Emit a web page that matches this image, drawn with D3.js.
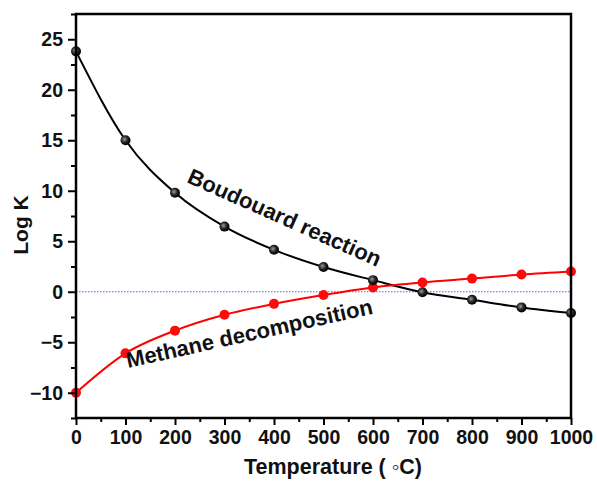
<!DOCTYPE html>
<html>
<head>
<meta charset="utf-8">
<script src="https://cdn.jsdelivr.net/npm/d3@7/dist/d3.min.js"></script>
<style>
  html, body { margin: 0; padding: 0; background: #fff; }
  svg { display: block; }
  text { font-family: "Liberation Sans", Arial, sans-serif; font-weight: bold; fill: #111; }
</style>
</head>
<body>
<svg id="chart" width="597" height="484"></svg>
<script>
// Temperature grid (°C)
const temperatures = [0, 100, 200, 300, 400, 500, 600, 700, 800, 900, 1000];
// log K of the Boudouard reaction (2CO -> C + CO2)
const boudouardLogK = [23.8, 15.0, 9.8, 6.45, 4.15, 2.45, 1.15, -0.05, -0.8, -1.55, -2.1];
// log K of methane decomposition (CH4 -> C + 2H2)
const methaneLogK = [-10.0, -6.1, -3.85, -2.28, -1.2, -0.33, 0.42, 0.92, 1.3, 1.7, 2.0];
const xTicks = [0, 100, 200, 300, 400, 500, 600, 700, 800, 900, 1000];
const yTicks = [-10, -5, 0, 5, 10, 15, 20, 25];

const svg = d3.select("#chart");
const m = { left: 76, right: 26, top: 14, bottom: 66 };
const W = 597, H = 484;

const x = d3.scaleLinear().domain([0, 1000]).range([m.left, W - m.right]);
const y = d3.scaleLinear().domain([-12.5, 27.5]).range([H - m.bottom, m.top]);

// shaded sphere for the Boudouard markers
const defs = svg.append("defs");
const grad = defs.append("radialGradient").attr("id", "ball")
  .attr("cx", "40%").attr("cy", "40%").attr("r", "60%");
grad.append("stop").attr("offset", "0%").attr("stop-color", "#9a9a9a");
grad.append("stop").attr("offset", "55%").attr("stop-color", "#222");
grad.append("stop").attr("offset", "100%").attr("stop-color", "#000");

// zero reference line
svg.append("line")
  .attr("x1", x(0)).attr("x2", x(1000))
  .attr("y1", y(0)).attr("y2", y(0))
  .attr("stroke", "#5c5cf0").attr("stroke-width", 1)
  .attr("stroke-dasharray", "1.5,1.5");

const line = d3.line().curve(d3.curveMonotoneX)
  .x((d, i) => x(temperatures[i])).y(d => y(d));

svg.append("path").datum(boudouardLogK)
  .attr("d", line).attr("fill", "none")
  .attr("stroke", "#000").attr("stroke-width", 2);

svg.append("path").datum(methaneLogK)
  .attr("d", line).attr("fill", "none")
  .attr("stroke", "#ff0000").attr("stroke-width", 2);

svg.append("g").selectAll("circle").data(methaneLogK).join("circle")
  .attr("cx", (d, i) => x(temperatures[i])).attr("cy", d => y(d))
  .attr("r", 5).attr("fill", "#ff0a0a");

svg.append("g").selectAll("circle").data(boudouardLogK).join("circle")
  .attr("cx", (d, i) => x(temperatures[i])).attr("cy", d => y(d))
  .attr("r", 5).attr("fill", "url(#ball)");

// axes
const xAxis = d3.axisBottom(x).tickValues(xTicks).tickSize(7).tickPadding(5).tickFormat(d3.format("d"));
const yAxis = d3.axisLeft(y).tickValues(yTicks).tickSize(8).tickPadding(5).tickFormat(d3.format("d"));
const xMinor = d3.axisBottom(x).tickValues(d3.range(50, 1000, 100)).tickSize(4).tickFormat("");
const yMinor = d3.axisLeft(y).tickValues(d3.range(-12.5, 27.6, 5)).tickSize(5).tickFormat("");

function style(g) {
  g.select(".domain").remove();
  g.selectAll("line").attr("stroke", "#000").attr("stroke-width", 2);
  g.selectAll("text").style("font-size", "19.5px").attr("fill", "#111");
}
svg.append("g").attr("transform", `translate(0,${y(-12.5)})`).call(xAxis).call(style);
svg.append("g").attr("transform", `translate(0,${y(-12.5)})`).call(xMinor).call(style);
svg.append("g").attr("transform", `translate(${x(0)},0)`).call(yAxis).call(style);
svg.append("g").attr("transform", `translate(${x(0)},0)`).call(yMinor).call(style);

// frame
svg.append("rect")
  .attr("x", x(0)).attr("y", y(27.5))
  .attr("width", x(1000) - x(0)).attr("height", y(-12.5) - y(27.5))
  .attr("fill", "none").attr("stroke", "#000").attr("stroke-width", 2.5);

// axis titles
svg.append("text")
  .attr("transform", `translate(28,225) rotate(-90)`)
  .attr("text-anchor", "middle").style("font-size", "21px").text("Log K");
svg.append("text")
  .attr("x", 333).attr("y", 474)
  .attr("text-anchor", "middle").style("font-size", "21.5px").text("Temperature ( \u25E6C)");

// curve annotations
svg.append("text")
  .attr("transform", "translate(186,182) rotate(24)")
  .style("font-size", "22px").text("Boudouard reaction");
svg.append("text")
  .attr("transform", "translate(128,368) rotate(-12.5)")
  .style("font-size", "22px").text("Methane decomposition");
</script>
</body>
</html>
